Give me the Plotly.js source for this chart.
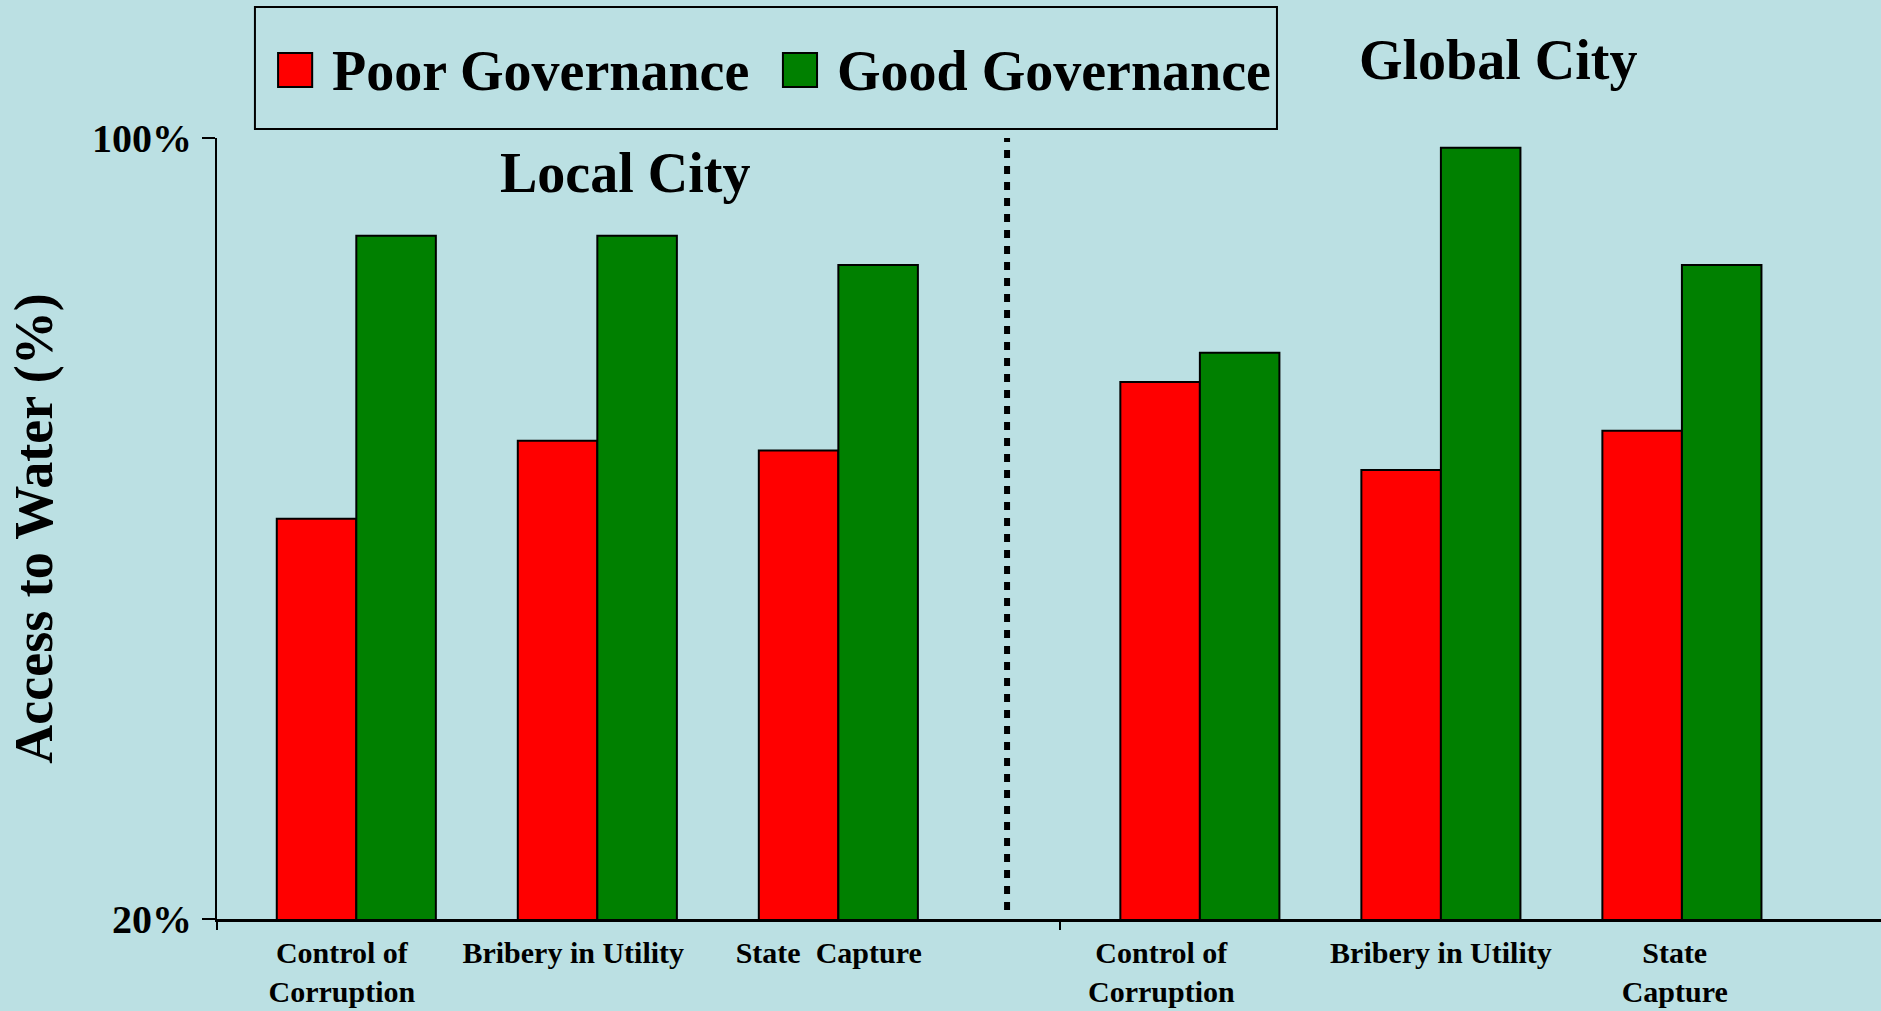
<!DOCTYPE html>
<html>
<head>
<meta charset="utf-8">
<script src="https://cdn.plot.ly/plotly-3.0.1.min.js"></script>
<style>
  html, body { margin: 0; padding: 0; background: #bbe0e3; }
  #chart { width: 1881px; height: 1011px; }
</style>
</head>
<body>
<div id="chart"></div>
<script>
// bar groups: local city (0..2) and global city (3.5..5.5)
var positions = [0, 1, 2, 3.5, 4.5, 5.5];
var poorGov = [61, 69, 68, 75, 66, 70];
var goodGov = [90, 90, 87, 78, 99, 87];

// tick labels, placed a little off the bar centres like the original
var labelPos = [-0.06, 0.9, 1.96, 3.34, 4.5, 5.47];
var labelText = ['Control of<br>Corruption', 'Bribery in Utility', 'State  Capture',
                 'Control of<br>Corruption', 'Bribery in Utility', 'State<br>Capture'];

var yTicks = [20, 100];
var yTickText = ['20%', '100%'];

var seriesNames = ['Poor Governance', 'Good Governance'];
var seriesColors = ['#ff0000', '#008000'];

var xRange = [-0.578, 6.326];
var divider = 2.70;   // dotted separator
var groupTick = 2.92; // tick mark between groups

var data = [
  {
    type: 'bar',
    name: seriesNames[0],
    x: positions,
    y: poorGov,
    marker: { color: seriesColors[0], line: { color: '#000', width: 2 } },
    showlegend: false,
    hoverinfo: 'y'
  },
  {
    type: 'bar',
    name: seriesNames[1],
    x: positions,
    y: goodGov,
    marker: { color: seriesColors[1], line: { color: '#000', width: 2 } },
    showlegend: false,
    hoverinfo: 'y'
  }
];

// hand made legend, the plotly swatches are too small here
var legX = [0.0367, 0.3401];
var legTextX = [0.0679, 0.3714];

var shapes = [
  {
    type: 'line', xref: 'x', yref: 'y',
    x0: divider, x1: divider, y0: 100.4, y1: 20.7,
    line: { color: '#000', width: 6, dash: '8px,8px' }
  },
  {
    type: 'rect', xref: 'paper', yref: 'paper',
    x0: 0.0228, x1: 0.637, y0: 1.0115, y1: 1.1677,
    line: { color: '#000', width: 2 }, fillcolor: 'rgba(0,0,0,0)'
  }
];

var annotations = [
  {
    text: 'Local City', xref: 'paper', yref: 'paper', x: 0.245, y: 0.955,
    xanchor: 'center', yanchor: 'middle',
    showarrow: false, font: { size: 56 }
  },
  {
    text: 'Global City', xref: 'paper', yref: 'paper', x: 0.770, y: 1.100,
    xanchor: 'center', yanchor: 'middle',
    showarrow: false, font: { size: 56 }
  }
];

for (var i = 0; i < seriesNames.length; i++) {
  shapes.push({
    type: 'rect', xref: 'paper', yref: 'paper',
    x0: legX[i], x1: legX[i] + 0.0205, y0: 1.0653, y1: 1.1088,
    line: { color: '#000', width: 2 }, fillcolor: seriesColors[i]
  });
  annotations.push({
    text: seriesNames[i], xref: 'paper', yref: 'paper',
    x: legTextX[i], y: 1.086, xanchor: 'left', yanchor: 'middle',
    showarrow: false, font: { size: 56 }
  });
}

var layout = {
  width: 1881,
  height: 1011,
  paper_bgcolor: '#bbe0e3',
  plot_bgcolor: '#bbe0e3',
  font: { family: 'Liberation Serif, Times New Roman, serif', color: '#000', weight: 'bold' },
  margin: { l: 217, r: 0, t: 138, b: 92 },
  barmode: 'group',
  bargap: 0.34,
  bargroupgap: 0,
  showlegend: false,
  xaxis: {
    range: xRange,
    tickmode: 'array',
    tickvals: labelPos,
    ticktext: labelText,
    ticks: '',
    ticklabelstandoff: 5,
    tickfont: { size: 30 },
    showline: true,
    linecolor: '#000',
    linewidth: 3,
    showgrid: false,
    zeroline: false,
    fixedrange: true,
    minor: { tickvals: [xRange[0], groupTick], ticks: 'outside', ticklen: 8, tickwidth: 2, tickcolor: '#000', showgrid: false }
  },
  yaxis: {
    range: [20, 100],
    tickmode: 'array',
    tickvals: yTicks,
    ticktext: yTickText,
    ticks: 'outside',
    ticklen: 13,
    tickwidth: 2,
    tickcolor: '#000',
    tickfont: { size: 40 },
    ticklabelstandoff: 2,
    showline: true,
    linecolor: '#000',
    linewidth: 2,
    showgrid: false,
    zeroline: false,
    fixedrange: true,
    title: { text: 'Access to Water (%)', font: { size: 54 }, standoff: 22 }
  },
  shapes: shapes,
  annotations: annotations
};

Plotly.newPlot('chart', data, layout, { displayModeBar: false, staticPlot: true });
</script>
</body>
</html>
